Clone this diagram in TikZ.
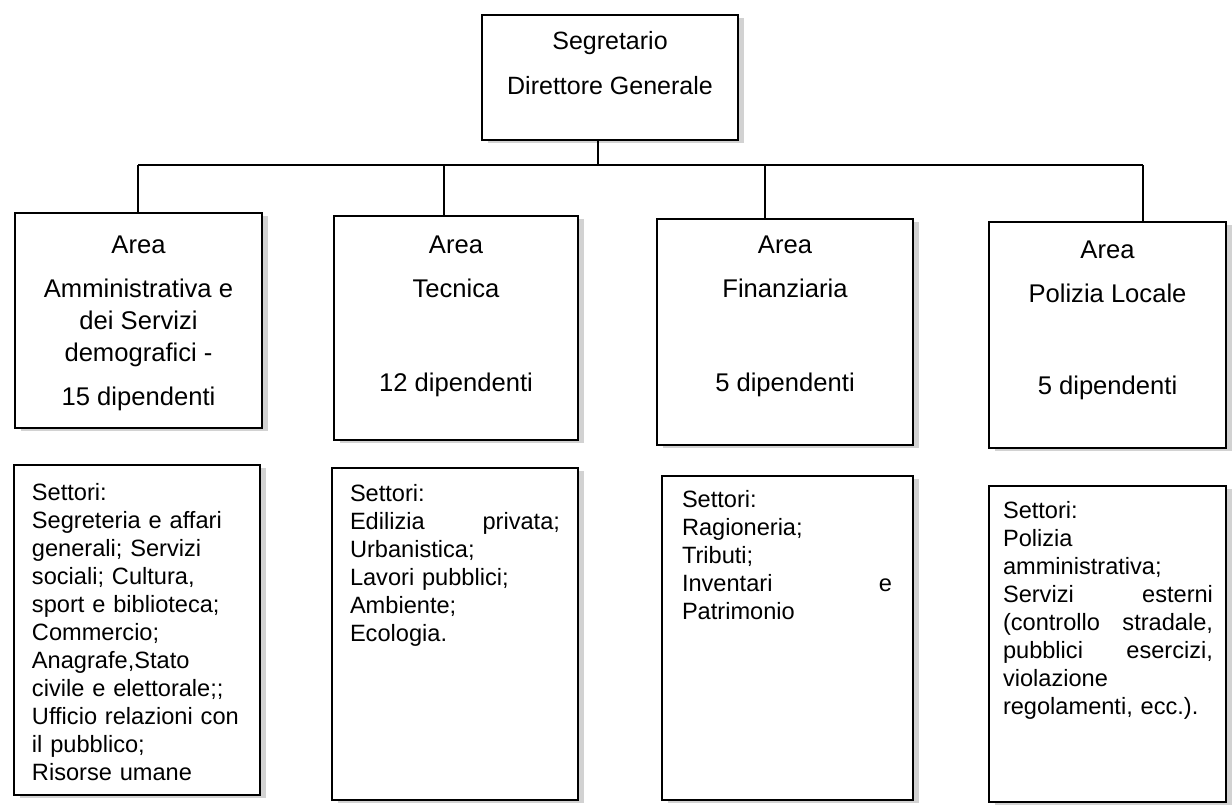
\documentclass[tikz,border=0pt]{standalone}
\usepackage{fontspec}
\setmainfont{Liberation Sans}
\usetikzlibrary{positioning, shadows}

\begin{document}
\begin{tikzpicture}[x=0.5pt, y=-0.5pt, line width=0.9pt,
    box/.style={draw, fill=white, inner sep=0pt,
      drop shadow={shadow xshift=3pt, shadow yshift=-1.5pt, fill=black!35}},
    areatext/.style={align=center, inner sep=0pt, font=\fontsize{12.8}{16}\selectfont},
    settext/.style={align=left, text width=105pt, inner sep=0pt, font=\fontsize{11.8}{14}\selectfont}]
   \useasboundingbox (0,0) rectangle (1232,804);

   % boxes
   \node[box, minimum width=128pt, minimum height=62.5pt] (seg) at (610,77.5) {};
   \node[box, minimum width=123.5pt, minimum height=107.5pt] (a1) at (138.5,320.5) {};
   \node[box, minimum width=122pt, minimum height=112pt] (a2) at (456,328) {};
   \node[box, minimum width=128pt, minimum height=113pt] (a3) at (785,332) {};
   \node[box, minimum width=118.5pt, minimum height=113pt] (a4) at (1107.5,335) {};
   \node[box, minimum width=123pt, minimum height=165pt] (s1) at (137,630) {};
   \node[box, minimum width=123pt, minimum height=166pt] (s2) at (455,634) {};
   \node[box, minimum width=125.5pt, minimum height=162pt] (s3) at (787.5,638) {};
   \node[box, minimum width=118.5pt, minimum height=158pt] (s4) at (1107.5,644) {};

   % texts
   \node[areatext, font=\fontsize{12.5}{22.5}\selectfont, below=8pt of seg.north] (segtxt)
     {Segretario\\Direttore Generale};
   \node[areatext, below=11.5pt of a1.north] (a1txt)
     {Area\\[6pt]Amministrativa e\\dei Servizi\\demografici -\\[6pt]15 dipendenti};
   \node[areatext, below=10pt of a2.north] (a2txt) {Area\\[6pt]Tecnica\\[31pt]12 dipendenti};
   \node[areatext, below=8.5pt of a3.north] (a3txt) {Area\\[6pt]Finanziaria\\[31pt]5 dipendenti};
   \node[areatext, below=9.5pt of a4.north] (a4txt) {Area\\[6pt]Polizia Locale\\[30pt]5 dipendenti};

   \node[settext, below right=9pt and 9pt of s1.north west] (s1txt)
     {Settori:\\Segreteria e affari\\generali; Servizi\\sociali; Cultura,\\sport e biblioteca;\\Commercio;\\Anagrafe,Stato\\civile e elettorale;;\\Ufficio relazioni con\\il pubblico;\\Risorse umane};
   \node[settext, below right=8pt and 9pt of s2.north west] (s2txt)
     {Settori:\\Edilizia\hfill privata;\\Urbanistica;\\Lavori pubblici;\\Ambiente;\\Ecologia.};
   \node[settext, below right=7pt and 10pt of s3.north west] (s3txt)
     {Settori:\\Ragioneria;\\Tributi;\\Inventari\hfill e\\Patrimonio};
   \node[settext, below right=7.5pt and 7pt of s4.north west] (s4txt)
     {Settori:\\Polizia\\amministrativa;\\Servizi\hfill esterni\\(controllo\hfill stradale,\\pubblici\hfill esercizi,\\violazione\\regolamenti, ecc.).};

   % connectors
   \coordinate (bus) at (598,165);
   \coordinate (j1) at (138,165);
   \coordinate (j2) at (444,165);
   \coordinate (j3) at (765,165);
   \coordinate (j4) at (1143,165);
   \draw (bus |- seg.south) -- (bus);
   \draw (j1) -- (j4);
   \draw (j1) -- (j1 |- a1.north);
   \draw (j2) -- (j2 |- a2.north);
   \draw (j3) -- (j3 |- a3.north);
   \draw (j4) -- (j4 |- a4.north);
\end{tikzpicture}
\end{document}
